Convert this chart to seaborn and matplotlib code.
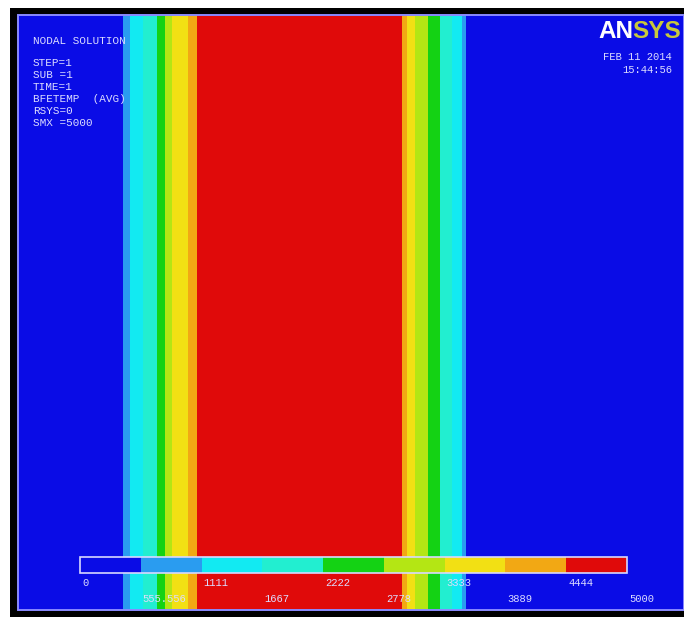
import numpy as np
import matplotlib
matplotlib.use("Agg")
import matplotlib.pyplot as plt
from matplotlib.colors import ListedColormap
from matplotlib.patches import Rectangle
import seaborn as sns

# Contour legend of the nodal temperature solution
level_labels = ["0", "555.556", "1111", "1667", "2222", "2778", "3333", "3889", "4444", "5000"]
level_colors = ["#0a0ce6", "#2a9cf0", "#12eaf2", "#22eed0", "#14d214",
                "#b4e614", "#f2e014", "#f2a814", "#e00a0a"]

# Vertical temperature bands across the plate: band edges (model units)
# and the contour level index found in each band
band_edges = [0, 105, 112, 125, 139, 147, 154, 170, 179, 384, 389, 397, 410, 422, 434, 444, 448, 666]
band_levels = [0, 1, 2, 3, 4, 5, 6, 7, 8, 7, 6, 5, 4, 3, 2, 1, 0]

header_lines = ["NODAL SOLUTION", "", "STEP=1", "SUB =1", "TIME=1",
                "BFETEMP  (AVG)", "RSYS=0", "SMX =5000"]
date_lines = ["FEB 11 2014", "15:44:56"]

W, H = 684, 618
sns.set_theme(style="white")
plt.rcParams["font.family"] = ["Liberation Mono", "DejaVu Sans Mono"]

fig = plt.figure(figsize=(W / 100, H / 100), dpi=100, facecolor="white")


def fx(x):
    return x / W


def fy(y):
    return 1 - y / H


# black window frame behind the graphics area
fig.patches.append(Rectangle((fx(10), fy(617)), fx(W) - fx(10), fy(8) - fy(617),
                             transform=fig.transFigure, facecolor="black",
                             edgecolor="none", zorder=-10))

cmap = ListedColormap(level_colors)

# main contour field
ax = fig.add_axes([fx(18), fy(610), fx(W) - fx(18), fy(15) - fy(610)])
row = np.repeat(band_levels, np.diff(band_edges))
field = np.tile(row, (2, 1))
sns.heatmap(field, cmap=cmap, vmin=-0.5, vmax=len(level_colors) - 0.5,
            cbar=False, ax=ax, xticklabels=False, yticklabels=False,
            rasterized=True)
ax.set_xlabel("")
ax.set_ylabel("")
ax.add_patch(Rectangle((0, 0), 1, 1, transform=ax.transAxes, facecolor="none",
                       edgecolor="#8a8aff", lw=1.4, clip_on=False, zorder=5))

# contour legend bar
x0, x1, y0, y1 = 80, 627, 557, 573
cax = fig.add_axes([fx(x0), fy(y1), fx(x1) - fx(x0), fy(y0) - fy(y1)])
sns.heatmap(np.arange(len(level_colors))[None, :], cmap=cmap, vmin=-0.5,
            vmax=len(level_colors) - 0.5, cbar=False, ax=cax,
            xticklabels=False, yticklabels=False)
cax.add_patch(Rectangle((0, 0), 1, 1, transform=cax.transAxes, facecolor="none",
                        edgecolor="#d8d8ff", lw=1.2, clip_on=False, zorder=5))

txt_color = "#dcdcff"
step = (x1 - x0) / (len(level_labels) - 1)
for i, lab in enumerate(level_labels):
    xx = x0 + i * step + 2
    yy = 583 if i % 2 == 0 else 599
    fig.text(fx(xx), fy(yy), lab, ha="left", va="center",
             fontsize=7.6, color=txt_color)

# solution header
y = 41
for line in header_lines:
    if line:
        fig.text(fx(33), fy(y), line, ha="left", va="center", fontsize=7.9,
                 color=txt_color)
    y += 10 if not line else 12

# logo and time stamp
logo_font = ["Liberation Sans", "DejaVu Sans"]
t_an = fig.text(fx(598), fy(32), "AN", ha="left", va="center", fontsize=17.5,
                fontweight="bold", color="white", family=logo_font)
fig.canvas.draw()
bb = t_an.get_window_extent()
fig.text(bb.x1 / W - fx(1), fy(32), "SYS", ha="left", va="center", fontsize=17.5,
         fontweight="bold", color="#c8c83c", family=logo_font)
fig.text(fx(672), fy(57), date_lines[0], ha="right", va="center", fontsize=7.6,
         color=txt_color)
fig.text(fx(672), fy(70), date_lines[1], ha="right", va="center", fontsize=7.6,
         color=txt_color)

fig.savefig("out.png", dpi=100, facecolor="white")
